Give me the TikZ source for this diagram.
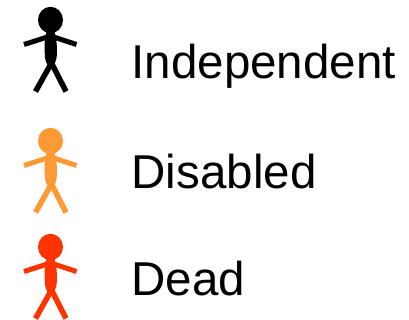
\documentclass[tikz,border=0pt]{standalone}
\usepackage{fontspec}
\setmainfont{Liberation Sans}
\definecolor{cdis}{RGB}{255,153,51}
\definecolor{cdead}{RGB}{255,51,0}
\tikzset{
  x=1pt,y=-1pt,
  lbl/.style={anchor=base west,inner sep=0pt,font=\fontsize{47.5}{50}\selectfont},
  pics/person/.style={code={
    \fill[#1] (0,20) ellipse[x radius=12.5,y radius=13.2];
    \fill[#1] (-4,32) -- (4,32) -- (5.5,38) .. controls (6.5,45) and (7,52) .. (6,58) .. controls (5,63) and (3,66) .. (0.5,67) .. controls (-3,66) and (-4.5,63) .. (-5.5,58) .. controls (-6,50) and (-6,44) .. (-5.5,38) -- cycle;
    \draw[#1,line width=5pt] (0,36) -- (-26.5,44.5);
    \draw[#1,line width=5pt] (0,36) -- (26,44.5);
    \draw[#1,line width=5.5pt] (1,63) -- (-15,91.5);
    \draw[#1,line width=5.5pt] (1,63) -- (15.5,91.5);
  }}
}
\begin{document}
\begin{tikzpicture}
\useasboundingbox (0,0) rectangle (409,320);
\pic at (50.5,0) {person=black};
\pic at (50.5,121) {person=cdis};
\pic at (50.5,227) {person=cdead};
\node[lbl] (a) at (131.5,78.5) {Independent};
\node[lbl] (b) at (131.5,188.5) {Disabled};
\node[lbl] (c) at (131.5,295) {Dead};
\end{tikzpicture}
\end{document}
